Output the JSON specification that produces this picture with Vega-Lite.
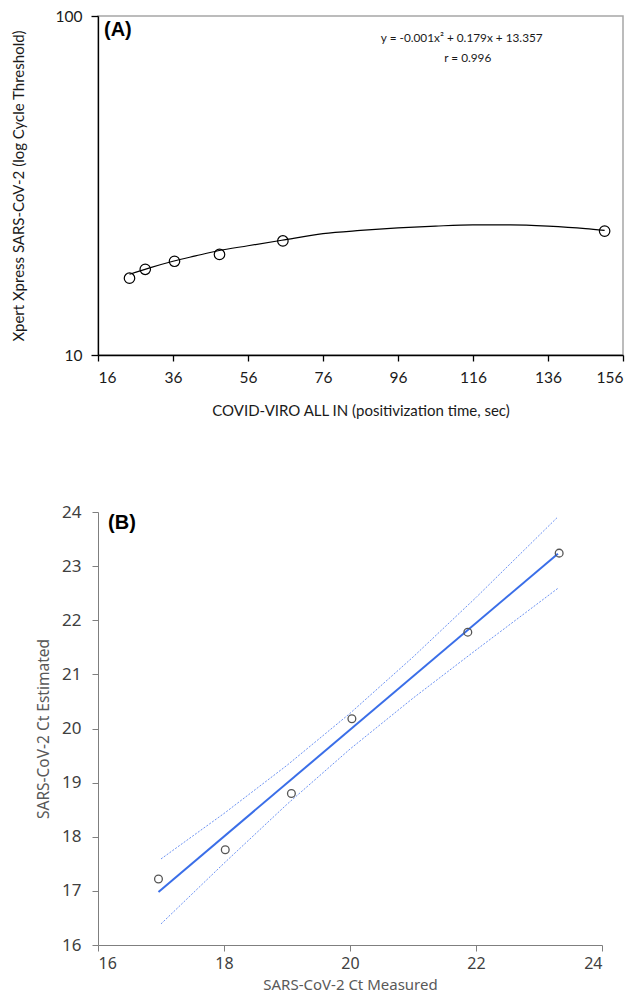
{
  "$schema": "https://vega.github.io/schema/vega-lite/v6.json",
  "background": "white",
  "padding": {"left": 10, "top": 8, "right": 5, "bottom": 0},
  "config": {"view": {"stroke": null}, "axis": {"grid": false}},
  "spacing": 83,
  "datasets": {
    "curveA": [
      {"x": 24.4, "y": 17.3}, {"x": 30, "y": 18.1}, {"x": 36, "y": 18.9}, {"x": 42, "y": 19.6},
      {"x": 48, "y": 20.3}, {"x": 56, "y": 21.0}, {"x": 65, "y": 21.8}, {"x": 76, "y": 22.8},
      {"x": 86, "y": 23.3}, {"x": 96, "y": 23.7}, {"x": 106, "y": 24.0}, {"x": 116, "y": 24.2},
      {"x": 126, "y": 24.2}, {"x": 136, "y": 24.0}, {"x": 146, "y": 23.6}, {"x": 151.1, "y": 23.3}
    ],
    "pointsA": [
      {"x": 24.4, "y": 16.85}, {"x": 28.6, "y": 17.9}, {"x": 36.4, "y": 18.9},
      {"x": 48.4, "y": 19.8}, {"x": 65.3, "y": 21.7}, {"x": 151.1, "y": 23.2}
    ],
    "bandsB": [
      {"x": 17.0, "y": 17.59, "band": "upper"}, {"x": 18, "y": 18.43, "band": "upper"},
      {"x": 19, "y": 19.32, "band": "upper"}, {"x": 20, "y": 20.28, "band": "upper"},
      {"x": 21, "y": 21.32, "band": "upper"}, {"x": 22, "y": 22.42, "band": "upper"},
      {"x": 23.3, "y": 23.91, "band": "upper"},
      {"x": 17.0, "y": 16.39, "band": "lower"}, {"x": 18, "y": 17.51, "band": "lower"},
      {"x": 19, "y": 18.6, "band": "lower"}, {"x": 20, "y": 19.62, "band": "lower"},
      {"x": 21, "y": 20.56, "band": "lower"}, {"x": 22, "y": 21.45, "band": "lower"},
      {"x": 23.3, "y": 22.59, "band": "lower"}
    ],
    "fitB": [
      {"x": 16.96, "y": 16.98}, {"x": 23.3, "y": 23.23}
    ],
    "pointsB": [
      {"x": 16.96, "y": 17.22}, {"x": 18.02, "y": 17.76}, {"x": 19.07, "y": 18.8},
      {"x": 20.03, "y": 20.18}, {"x": 21.87, "y": 21.78}, {"x": 23.32, "y": 23.24}
    ]
  },
  "vconcat": [
    {
      "width": 525,
      "height": 339,
      "view": {"stroke": "#a6a6a6", "strokeWidth": 1.5},
      "layer": [
        {
          "data": {"name": "curveA"},
          "mark": {"type": "line", "color": "black", "strokeWidth": 1.2, "interpolate": "monotone"},
          "encoding": {
            "x": {
              "field": "x", "type": "quantitative",
              "scale": {"domain": [16, 156], "nice": false, "zero": false},
              "title": "COVID-VIRO ALL IN (positivization time, sec)",
              "axis": {
                "values": [16, 36, 56, 76, 96, 116, 136, 156],
                "domainColor": "black", "domainWidth": 1.3, "tickColor": "black", "tickWidth": 1.3,
                "tickSize": 6, "labelPadding": 9, "labelFont": "Lato", "labelFontSize": 15.5,
                "labelColor": "#1a1a1a", "titleFont": "Lato", "titleFontSize": 15,
                "titleFontWeight": "normal", "titleColor": "#1a1a1a", "titlePadding": 18
              }
            },
            "y": {
              "field": "y", "type": "quantitative",
              "scale": {"type": "log", "domain": [10, 100], "nice": false},
              "title": "Xpert Xpress SARS-CoV-2 (log Cycle Threshold)",
              "axis": {
                "values": [10, 100], "format": "d",
                "domainColor": "black", "domainWidth": 1.3, "tickColor": "black", "tickWidth": 1.3,
                "tickSize": 7, "labelPadding": 9, "labelFont": "Lato", "labelFontSize": 15.5,
                "labelColor": "#1a1a1a", "titleFont": "Lato", "titleFontSize": 15,
                "titleFontWeight": "normal", "titleColor": "#1a1a1a", "titlePadding": 29
              }
            }
          }
        },
        {
          "data": {"name": "pointsA"},
          "mark": {"type": "point", "shape": "circle", "filled": false, "stroke": "black", "strokeWidth": 1.2, "size": 110, "opacity": 1},
          "encoding": {
            "x": {"field": "x", "type": "quantitative"},
            "y": {"field": "y", "type": "quantitative"}
          }
        },
        {
          "data": {"values": [{"x": 17.6, "y": 90.9, "label": "(A)"}]},
          "mark": {"type": "text", "align": "left", "baseline": "middle", "font": "Liberation Sans", "fontSize": 20, "fontWeight": "bold", "color": "black"},
          "encoding": {
            "x": {"field": "x", "type": "quantitative"},
            "y": {"field": "y", "type": "quantitative"},
            "text": {"field": "label"}
          }
        },
        {
          "data": {"values": [
            {"x": 113, "y": 86.1, "label": "y = -0.001x² + 0.179x + 13.357"},
            {"x": 114.6, "y": 75.2, "label": "r = 0.996"}
          ]},
          "mark": {"type": "text", "align": "center", "baseline": "middle", "font": "Lato", "fontSize": 11.8, "color": "#1a1a1a"},
          "encoding": {
            "x": {"field": "x", "type": "quantitative"},
            "y": {"field": "y", "type": "quantitative"},
            "text": {"field": "label"}
          }
        }
      ]
    },
    {
      "width": 504,
      "height": 433,
      "view": {"stroke": null},
      "layer": [
        {
          "data": {"name": "bandsB"},
          "mark": {"type": "line", "color": "#5b86f0", "strokeWidth": 0.9, "strokeDash": [2, 1.5]},
          "encoding": {
            "x": {
              "field": "x", "type": "quantitative",
              "scale": {"domain": [16, 24], "nice": false, "zero": false},
              "title": "SARS-CoV-2 Ct Measured",
              "axis": {
                "values": [16, 18, 20, 22, 24], "format": "d",
                "domainColor": "#7f7f7f", "tickColor": "#7f7f7f", "tickSize": 6, "labelPadding": 4,
                "labelFont": "Noto Sans", "labelFontSize": 16, "labelColor": "#404040",
                "titleFont": "Noto Sans", "titleFontSize": 15, "titleColor": "#595959",
                "titleFontWeight": "normal", "titlePadding": 6
              }
            },
            "y": {
              "field": "y", "type": "quantitative",
              "scale": {"domain": [16, 24], "nice": false, "zero": false},
              "title": "SARS-CoV-2 Ct Estimated",
              "axis": {
                "values": [16, 17, 18, 19, 20, 21, 22, 23, 24], "format": "d",
                "domainColor": "#7f7f7f", "tickColor": "#7f7f7f", "tickSize": 6, "labelPadding": 11,
                "labelFont": "Noto Sans", "labelFontSize": 17, "labelColor": "#404040",
                "titleFont": "Noto Sans", "titleFontSize": 15.5, "titleColor": "#595959",
                "titleFontWeight": "normal", "titlePadding": 10
              }
            },
            "detail": {"field": "band"}
          }
        },
        {
          "data": {"name": "fitB"},
          "mark": {"type": "line", "color": "#3a6ee8", "strokeWidth": 2},
          "encoding": {
            "x": {"field": "x", "type": "quantitative"},
            "y": {"field": "y", "type": "quantitative"}
          }
        },
        {
          "data": {"name": "pointsB"},
          "mark": {"type": "point", "shape": "circle", "filled": false, "stroke": "#555555", "strokeWidth": 1.3, "size": 60, "opacity": 1},
          "encoding": {
            "x": {"field": "x", "type": "quantitative"},
            "y": {"field": "y", "type": "quantitative"}
          }
        },
        {
          "data": {"values": [{"x": 16.16, "y": 23.8, "label": "(B)"}]},
          "mark": {"type": "text", "align": "left", "baseline": "middle", "font": "Liberation Sans", "fontSize": 20, "fontWeight": "bold", "color": "black"},
          "encoding": {
            "x": {"field": "x", "type": "quantitative"},
            "y": {"field": "y", "type": "quantitative"},
            "text": {"field": "label"}
          }
        }
      ]
    }
  ]
}
